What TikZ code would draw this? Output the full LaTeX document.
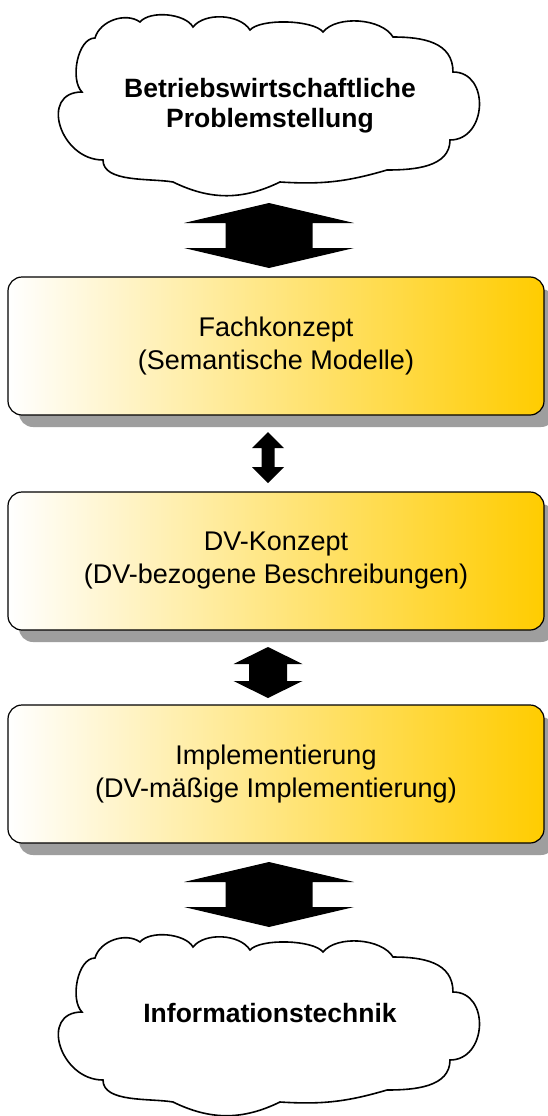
\documentclass[tikz,border=0pt]{standalone}
\usepackage{fontspec}
\setmainfont{Liberation Sans}
\usetikzlibrary{calc,shadows}
\definecolor{phasegold}{RGB}{255,204,0}

\begin{document}
\begin{tikzpicture}[x=1pt, y=1pt,
    phase/.style={draw, line width=1.2pt, rounded corners=14pt,
      minimum width=536pt, minimum height=138pt, inner sep=0pt, outer sep=0pt,
      left color=white, right color=phasegold, align=center,
      font=\fontsize{27}{33}\selectfont,
      drop shadow={shadow xshift=11pt, shadow yshift=-12pt, fill=black!38, opacity=1}},
    cloudtext/.style={align=center, font=\bfseries\fontsize{26.5}{30}\selectfont},
    cloudline/.style={draw, line width=1.6pt, fill=white},
    pics/cloudshape/.style={code={
        \draw[cloudline] (-175,66) to[bend left=55, looseness=0.95] (-130,82)
          to[bend left=55, looseness=0.75] (-77,77)
          to[bend left=55, looseness=0.85] (-20,74)
          to[bend left=50, looseness=0.55] (53,72)
          to[bend left=55, looseness=0.8] (123,67)
          to[out=0, in=90, looseness=1.1] (183,32)
          to[out=0, in=0, looseness=1.4] (180,-36)
          to[out=-90, in=0] (117,-66)
          to[bend left=10] (10,-78)
          to[bend left=26] (-97,-78)
          to[out=170, in=-90, looseness=0.8] (-167,-56)
          to[out=180, in=180, looseness=1.55] (-188,12)
          to[out=135, in=180, looseness=0.8] (-175,66) -- cycle;
      }},
    pics/dblarrow/.style n args={4}{code={
        % #1 half length, #2 head length, #3 head half width, #4 shaft half width
        \fill (0,{#1}) -- ({#3},{#1-#2}) -- ({#4},{#1-#2}) -- ({#4},{-#1+#2})
          -- ({#3},{-#1+#2}) -- (0,{-#1}) -- ({-#3},{-#1+#2}) -- ({-#4},{-#1+#2})
          -- ({-#4},{#1-#2}) -- ({-#3},{#1-#2}) -- cycle;
      }}]
  \path[use as bounding box, fill=white] (0,0) rectangle (548,-1116);

  % clouds
  \coordinate (cl1) at (270,-104);
  \coordinate (cl2) at (270,-1024);
  \pic at (cl1) {cloudshape};
  \pic at (cl2) {cloudshape};
  \node[cloudtext] (prob) at (270,-106) {Betriebswirtschaftliche\\Problemstellung};
  \node[cloudtext] (itech) at (270,-1013) {Informationstechnik};

  % phases
  \node[phase] (fach) at (276,-346) {Fachkonzept\\(Semantische Modelle)};
  \node[phase] (dvk) at (276,-561) {DV-Konzept\\(DV-bezogene Beschreibungen)};
  \node[phase] (impl) at (276,-774) {Implementierung\\(DV-mäßige Implementierung)};

  % arrows
  \pic at ($(fach.north)+(-7,41.5)$) {dblarrow={32.5}{20}{85}{43.5}};
  \pic at ($(fach.south)+(-8,-42.5)$) {dblarrow={25.5}{16}{16}{6.5}};
  \pic at ($(dvk.south)+(-8,-42.5)$) {dblarrow={25.5}{17}{34.5}{19}};
  \pic at ($(impl.south)+(-7,-51.5)$) {dblarrow={32.5}{20}{85}{43.5}};
\end{tikzpicture}
\end{document}
